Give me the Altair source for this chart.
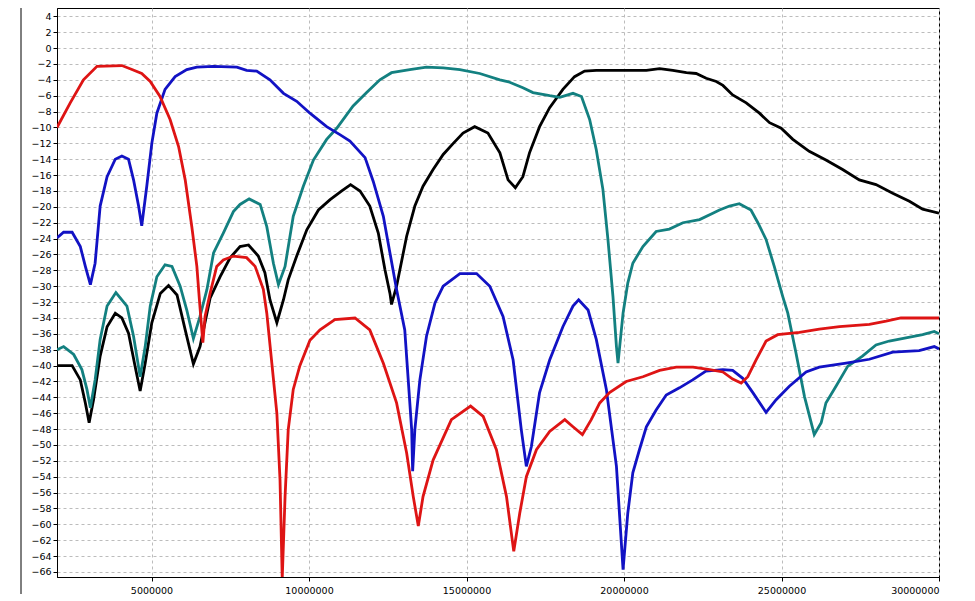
import altair as alt
import pandas as pd

# frequency in MHz, level in dB
red_x = [2.0, 2.42, 2.84, 3.27, 4.06, 4.38, 4.69, 4.96, 5.27, 5.59, 5.86, 6.07, 6.28, 6.44, 6.52,
         6.63, 6.70, 6.86, 7.07, 7.28, 7.6, 8.02, 8.29, 8.55, 8.66, 8.82, 8.98, 9.08, 9.15, 9.24,
         9.34, 9.5, 9.71, 10.03, 10.35, 10.82, 11.46, 11.93, 12.36, 12.78, 13.1, 13.31, 13.47, 13.62,
         13.94, 14.52, 15.13, 15.53, 15.95, 16.27, 16.5, 16.69, 16.9, 17.22, 17.64, 18.12, 18.38,
         18.68, 18.96, 19.23, 19.54, 20.07, 20.6, 21.13, 21.66, 22.19, 22.72, 23.14, 23.45, 23.72,
         23.93, 24.19, 24.51, 24.88, 25.57, 26.2, 26.84, 27.79, 28.32, 28.79, 30.0]
red_y = [-10.0, -6.9, -4.0, -2.3, -2.2, -2.7, -3.2, -4.2, -6.1, -9.0, -12.4, -16.6, -22.5, -27.5, -31.7,
         -37.1, -33.8, -30.9, -27.5, -26.7, -26.2, -26.4, -27.5, -30.4, -33.4, -39.7, -46.0, -54.4, -66.8, -56.5,
         -48.1, -43.0, -40.0, -36.8, -35.5, -34.2, -34.0, -35.5, -39.7, -44.7, -51.0, -56.5, -60.2, -56.5,
         -51.9, -46.8, -45.1, -46.4, -50.6, -56.5, -63.4, -58.6, -54.0, -50.6, -48.3, -46.8, -47.7,
         -48.7, -46.8, -44.7, -43.4, -42.0, -41.4, -40.6, -40.2, -40.2, -40.5, -40.8, -41.7, -42.2,
         -41.4, -39.3, -36.9, -36.1, -35.8, -35.4, -35.1, -34.8, -34.4, -34.0, -34.0]

blue_x = [2.0, 2.21, 2.48, 2.74, 2.9, 3.06, 3.21, 3.37, 3.59, 3.85, 4.06, 4.27, 4.43, 4.59, 4.69,
          4.85, 5.01, 5.17, 5.43, 5.75, 6.12, 6.44, 6.97, 7.71, 8.02, 8.34, 8.76, 9.19, 9.61, 10.03,
          10.56, 10.98, 11.3, 11.78, 12.04, 12.36, 12.57, 12.78, 13.04, 13.15, 13.26, 13.29, 13.36,
          13.52, 13.73, 14.0, 14.26, 14.79, 15.32, 15.74, 16.16, 16.48, 16.74, 16.9, 17.06, 17.32,
          17.64, 18.06, 18.38, 18.56, 18.86, 19.12, 19.44, 19.76, 19.97, 20.12, 20.28, 20.49, 20.71,
          21.02, 21.34, 21.76, 22.18, 22.6, 23.14, 23.45, 23.77, 24.09, 24.51, 24.83, 25.25, 25.78,
          26.2, 27.05, 27.79, 28.53, 29.37, 29.85, 30.0]
blue_y = [-23.9, -23.2, -23.2, -25.0, -27.5, -29.8, -27.1, -19.9, -16.2, -14.0, -13.6, -14.0, -16.6, -19.9, -22.4,
          -17.4, -12.0, -8.2, -5.2, -3.6, -2.7, -2.4, -2.3, -2.4, -2.8, -2.9, -4.0, -5.7, -6.7, -8.2,
          -9.9, -10.9, -11.7, -13.8, -16.8, -21.2, -25.8, -30.4, -35.5, -41.8, -48.1, -53.3, -48.1,
          -41.8, -36.3, -32.1, -30.0, -28.4, -28.4, -30.0, -33.8, -39.3, -48.1, -52.7, -50.2, -43.4,
          -39.3, -35.1, -32.5, -31.7, -33.0, -36.7, -43.0, -52.7, -65.7, -58.6, -53.5, -50.6, -47.7,
          -45.6, -43.7, -42.8, -41.8, -40.7, -40.5, -40.6, -41.6, -43.4, -45.9, -44.3, -42.6, -40.8,
          -40.2, -39.7, -39.2, -38.3, -38.1, -37.6, -37.9]

teal_x = [2.0, 2.21, 2.53, 2.79, 2.95, 3.06, 3.21, 3.37, 3.59, 3.87, 4.22, 4.43, 4.64, 4.8, 4.96,
          5.17, 5.43, 5.65, 5.91, 6.12, 6.33, 6.54, 6.76, 6.97, 7.28, 7.6, 7.81, 8.1, 8.45, 8.66,
          8.87, 9.03, 9.24, 9.5, 9.82, 10.14, 10.56, 10.88, 11.4, 11.83, 12.25, 12.62, 13.2, 13.73,
          14.26, 14.79, 15.42, 16.06, 16.37, 16.79, 17.11, 17.64, 17.96, 18.38, 18.65, 18.91, 19.12,
          19.33, 19.49, 19.65, 19.76, 19.81, 19.97, 20.12, 20.28, 20.6, 21.02, 21.44, 21.87, 22.4,
          22.82, 23.03, 23.35, 23.66, 24.03, 24.25, 24.51, 24.77, 25.04, 25.2, 25.46, 25.73, 26.04,
          26.26, 26.41, 26.73, 27.1, 27.57, 28.0, 28.42, 28.95, 29.48, 29.85, 30.0]
teal_y = [-38.0, -37.6, -38.6, -40.5, -43.0, -45.3, -41.8, -36.7, -32.5, -30.8, -32.5, -36.3, -41.4, -37.6, -32.5,
          -28.8, -27.3, -27.5, -30.0, -33.0, -36.6, -33.8, -30.4, -25.8, -23.3, -20.6, -19.7, -19.0, -19.7, -22.5,
          -27.1, -29.8, -27.5, -21.2, -17.4, -14.1, -11.5, -10.1, -7.3, -5.6, -4.0, -3.1, -2.7, -2.4,
          -2.5, -2.7, -3.2, -4.0, -4.3, -5.0, -5.6, -6.0, -6.2, -5.7, -6.1, -9.0, -12.8,
          -17.8, -24.1, -31.3, -37.6, -39.7, -33.4, -29.6, -27.1, -25.0, -23.1, -22.8, -22.0, -21.6,
          -20.8, -20.4, -19.9, -19.6, -20.4, -22.0, -24.1, -27.5, -31.3, -33.4, -38.4, -43.9, -48.7,
          -47.2, -44.7, -42.6, -40.1, -38.8, -37.4, -36.9, -36.5, -36.1, -35.7, -36.0]

black_x = [2.0, 2.48, 2.74, 2.9, 3.02, 3.16, 3.37, 3.59, 3.85, 4.06, 4.27, 4.48, 4.64, 4.8, 5.01,
           5.28, 5.54, 5.81, 6.07, 6.33, 6.54, 6.86, 7.18, 7.5, 7.81, 8.08, 8.39, 8.6, 8.76, 8.98,
           9.19, 9.34, 9.61, 9.93, 10.3, 10.67, 11.04, 11.32, 11.62, 11.93, 12.2, 12.41, 12.57, 12.62,
           12.78, 13.1, 13.36, 13.62, 13.94, 14.26, 14.58, 14.89, 15.26, 15.68, 16.06, 16.32, 16.55,
           16.79, 17.0, 17.32, 17.64, 18.06, 18.43, 18.75, 19.12, 19.97, 20.71, 21.13, 21.55, 21.98,
           22.29, 22.61, 22.93, 23.14, 23.45, 23.88, 24.3, 24.62, 24.99, 25.36, 25.88, 26.41, 26.94,
           27.47, 28.0, 28.53, 29.06, 29.48, 30.0]
black_y = [-40.0, -40.0, -41.8, -44.7, -47.2, -44.3, -38.8, -35.1, -33.4, -34.0, -35.9, -40.1, -43.2, -39.7, -34.6,
           -30.9, -29.9, -31.1, -35.5, -39.8, -37.6, -31.5, -28.8, -26.4, -25.0, -24.8, -26.2, -28.3, -31.7, -34.6,
           -31.7, -29.2, -26.2, -22.9, -20.4, -19.1, -18.0, -17.2, -18.0, -19.9, -23.3, -27.9, -30.9, -32.3,
           -30.0, -23.7, -19.9, -17.4, -15.3, -13.4, -12.0, -10.7, -9.9, -10.7, -13.2, -16.6, -17.6,
           -16.2, -13.2, -9.9, -7.5, -5.2, -3.6, -2.9, -2.8, -2.8, -2.8, -2.6, -2.8, -3.1,
           -3.2, -3.8, -4.2, -4.7, -5.9, -6.9, -8.2, -9.4, -10.1, -11.5, -13.0, -14.1, -15.3,
           -16.6, -17.2, -18.3, -19.3, -20.3, -20.8]

x_ticks = [5000000, 10000000, 15000000, 20000000, 25000000, 30000000]
y_ticks = list(range(-66, 5, 2))

# drawn bottom to top: black, teal, blue, red
series = [
    ("black", black_x, black_y, "#000000"),
    ("teal", teal_x, teal_y, "#138080"),
    ("blue", blue_x, blue_y, "#1212c4"),
    ("red", red_x, red_y, "#de1414"),
]

x_scale = alt.Scale(domain=[2000000, 30000000], nice=False, zero=False)
y_scale = alt.Scale(domain=[-66.63, 5.05], nice=False, zero=False)

x_axis = alt.Axis(values=x_ticks, format="d", title=None, labelPadding=4, tickSize=4)
y_axis = alt.Axis(values=y_ticks, format="d", title=None, labelPadding=2, tickSize=4)

layers = []
for name, xs, ys, colour in series:
    df = pd.DataFrame({"freq": [x * 1000000 for x in xs], "level": ys})
    layers.append(
        alt.Chart(df).mark_line(color=colour, strokeWidth=2.8, clip=True).encode(
            alt.X("freq:Q", scale=x_scale, axis=x_axis),
            alt.Y("level:Q", scale=y_scale, axis=y_axis),
        )
    )

# the thin vertical line left of the axis labels
side_line = alt.Chart(pd.DataFrame({"a": [0]})).mark_rule(color="black", strokeWidth=1).encode(
    x=alt.value(-36), y=alt.value(-8), y2=alt.value(590)
)

chart = alt.layer(*layers, side_line).properties(
    width=882,
    height=569,
    autosize=alt.AutoSizeParams(type="none"),
    padding={"left": 49, "top": 0, "right": 24, "bottom": 17},
    background="white",
).configure_view(
    stroke="black", strokeWidth=1
).configure_axis(
    labelFont="DejaVu Sans",
    labelFontSize=9.5,
    labelColor="#000000",
    domainColor="#000000",
    domainWidth=1,
    tickColor="#000000",
    grid=True,
    gridColor="#bcbcbc",
    gridDash=[3, 3],
    gridWidth=1,
)

chart.save("out.html", embed_options={"renderer": "svg", "actions": False})
